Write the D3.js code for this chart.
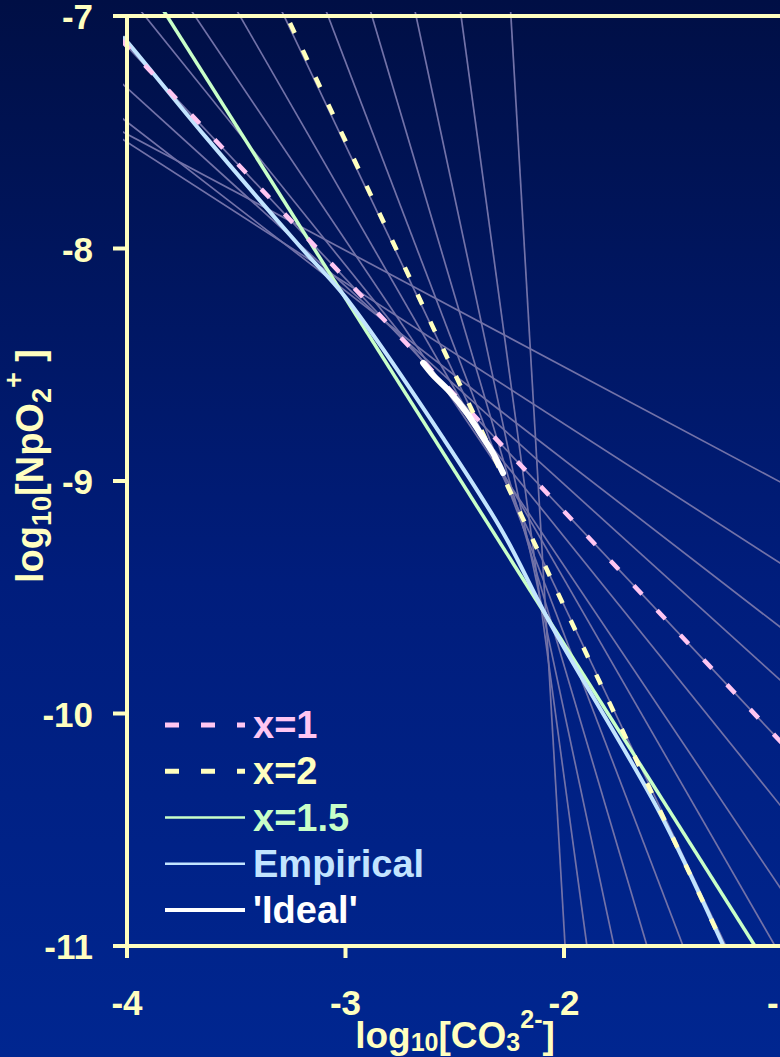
<!DOCTYPE html>
<html>
<head>
<meta charset="utf-8">
<script src="https://cdn.jsdelivr.net/npm/d3@7"></script>
<style>
  html, body { margin: 0; padding: 0; background: #00104a; }
  svg { display: block; }
</style>
</head>
<body>
<script>
// ---- data (log10 units) ----
const xTicks = [-4, -3, -2, -1];
const yTicks = [-7, -8, -9, -10, -11];

// thin fan of trial lines, each given by two points [logCO3, logNpO2]
const fanLines = [
  [[-2.243, -7.000], [-1.995, -11.000]],
  [[-2.471, -7.000], [-1.895, -11.000]],
  [[-2.677, -7.000], [-1.771, -11.000]],
  [[-2.879, -7.000], [-1.620, -11.000]],
  [[-3.080, -7.000], [-1.455, -11.000]],
  [[-3.281, -7.000], [-1.259, -11.000]],
  [[-3.483, -7.000], [-1.034, -11.000]],
  [[-3.689, -7.000], [-1.011, -10.749]],
  [[-3.918, -7.000], [-1.011, -10.394]],
  [[-4.000, -7.310], [-1.011, -9.856]],
  [[-4.000, -7.456], [-1.011, -9.628]],
  [[-4.000, -7.542], [-1.011, -9.353]],
  [[-4.000, -7.508], [-1.011, -9.004]],
  [[-4.000, -7.130], [-1.011, -10.119]]
];

// highlighted slopes
const lineX1  = [[-4.000, -7.130], [-1.011, -10.119]];
const lineX2  = [[-3.254, -7.030], [-1.269, -11.000]];
const lineX15 = [[-3.817, -7.000], [-1.126, -11.000]];

const empirical = [
  [-4.02, -7.09], [-4.00, -7.11], [-3.64, -7.52], [-3.20, -8.00], [-3.00, -8.21],
  [-2.55, -8.82], [-2.28, -9.22], [-2.07, -9.60], [-1.56, -10.43], [-1.27, -11.00],
  [-1.26, -11.02]
];

const ideal = [
  [-2.645, -8.492], [-2.600, -8.544], [-2.522, -8.617], [-2.444, -8.708],
  [-2.384, -8.794], [-2.325, -8.880], [-2.279, -8.966]
];

const legendLabels = ["x=1", "x=2", "x=1.5", "Empirical", "'Ideal'"];

// ---- layout ----
const W = 780, H = 1057;
const AXIS = "#ffffc0";
const FONT = "'Liberation Sans', Arial, Helvetica, sans-serif";

const x = d3.scaleLinear().domain([-4, -1]).range([127, 782.5]);
const y = d3.scaleLinear().domain([-7, -11]).range([16, 946]);

const svg = d3.select("body").append("svg")
  .attr("width", W).attr("height", H)
  .attr("font-family", FONT).attr("font-weight", "bold");

const defs = svg.append("defs");
const grad = defs.append("linearGradient").attr("id", "bg")
  .attr("x1", 0).attr("y1", 0).attr("x2", 0).attr("y2", 1);
grad.append("stop").attr("offset", 0).attr("stop-color", "#000f45");
grad.append("stop").attr("offset", 0.55).attr("stop-color", "#001d7c");
grad.append("stop").attr("offset", 1).attr("stop-color", "#002690");
svg.append("rect").attr("width", W).attr("height", H).attr("fill", "url(#bg)");

defs.append("clipPath").attr("id", "plot")
  .append("rect").attr("x", 123).attr("y", 12).attr("width", W - 123).attr("height", 936);

// extend a two-point line across the whole x range
function extend(seg) {
  const [[x1, y1], [x2, y2]] = seg;
  const m = (y2 - y1) / (x2 - x1);
  const xa = -4.05, xb = -0.9;
  return [[xa, y1 + m * (xa - x1)], [xb, y1 + m * (xb - x1)]];
}
const line = d3.line().x(d => x(d[0])).y(d => y(d[1]));
const smooth = d3.line().x(d => x(d[0])).y(d => y(d[1])).curve(d3.curveCatmullRom.alpha(0.5));

const plot = svg.append("g").attr("clip-path", "url(#plot)");

plot.selectAll("path.fan").data(fanLines).join("path")
  .attr("class", "fan")
  .attr("d", d => line(extend(d)))
  .attr("fill", "none").attr("stroke", "#7272a8").attr("stroke-width", 1.7);

plot.append("path").attr("d", line(extend(lineX15)))
  .attr("fill", "none").attr("stroke", "#c8ffc8").attr("stroke-width", 3.5);

plot.append("path").attr("d", smooth(empirical))
  .attr("fill", "none").attr("stroke", "#c2e4ff").attr("stroke-width", 4);

plot.append("path").attr("d", line(extend(lineX1)))
  .attr("fill", "none").attr("stroke", "#ffc6f2").attr("stroke-width", 4.5)
  .attr("stroke-dasharray", "12 22").attr("stroke-dashoffset", -8);

plot.append("path").attr("d", line(lineX2))
  .attr("fill", "none").attr("stroke", "#ffffbf").attr("stroke-width", 4.5)
  .attr("stroke-dasharray", "11 19");

plot.append("path").attr("d", smooth(ideal))
  .attr("fill", "none").attr("stroke", "#ffffff").attr("stroke-width", 6)
  .attr("stroke-linecap", "round");

// ---- axes ----
const axes = svg.append("g").attr("stroke", AXIS).attr("stroke-width", 4);
axes.append("line").attr("x1", x(-4)).attr("x2", x(-4)).attr("y1", y(-7) - 2).attr("y2", 958);
axes.append("line").attr("x1", 113).attr("x2", W).attr("y1", y(-7)).attr("y2", y(-7));
axes.append("line").attr("x1", 113).attr("x2", W).attr("y1", y(-11)).attr("y2", y(-11));
axes.selectAll("line.yt").data(yTicks).join("line").attr("class", "yt")
  .attr("x1", 113).attr("x2", x(-4)).attr("y1", d => y(d)).attr("y2", d => y(d));
axes.selectAll("line.xt").data(xTicks).join("line").attr("class", "xt")
  .attr("x1", d => x(d)).attr("x2", d => x(d)).attr("y1", y(-11)).attr("y2", 958);

svg.selectAll("text.yl").data(yTicks).join("text").attr("class", "yl")
  .attr("x", 93).attr("y", d => y(d) + 13)
  .attr("text-anchor", "end").attr("font-size", 35).attr("fill", AXIS)
  .text(d => d);

svg.selectAll("text.xl").data(xTicks).join("text").attr("class", "xl")
  .attr("x", d => x(d)).attr("y", 1015)
  .attr("text-anchor", "middle").attr("font-size", 35).attr("fill", AXIS)
  .text(d => d);

// axis titles with sub/superscripts
const xt = svg.append("text").attr("x", 455).attr("y", 1048)
  .attr("text-anchor", "middle").attr("font-size", 37).attr("fill", AXIS);
xt.append("tspan").text("log");
xt.append("tspan").attr("font-size", 25).attr("dy", 3).text("10");
xt.append("tspan").attr("dy", -3).text("[CO");
xt.append("tspan").attr("font-size", 25).attr("dy", 3).text("3");
xt.append("tspan").attr("font-size", 25).attr("dy", -23).text("2-");
xt.append("tspan").attr("dy", 20).text("]");

const yt = svg.append("text").attr("transform", "translate(43,466) rotate(-90)")
  .attr("text-anchor", "middle").attr("font-size", 38).attr("fill", AXIS);
yt.append("tspan").text("log");
yt.append("tspan").attr("font-size", 27).attr("dy", 8).text("10");
yt.append("tspan").attr("dy", -8).text("[NpO");
yt.append("tspan").attr("font-size", 27).attr("dy", 8).text("2");
yt.append("tspan").attr("font-size", 27).attr("dy", -28).text("+");
yt.append("tspan").attr("dy", 20).text(" ]");

// ---- legend ----
const legendStyle = [
  { color: "#ffc6f2", width: 5, dash: "14 22" },
  { color: "#ffffbf", width: 5, dash: "14 22" },
  { color: "#c8ffc8", width: 2.5, dash: null },
  { color: "#c2e4ff", width: 2.5, dash: null },
  { color: "#ffffff", width: 4, dash: null }
];
const legendRow = d3.scaleLinear().domain([0, 4]).range([725, 910]);
const lg = svg.selectAll("g.leg").data(legendLabels).join("g").attr("class", "leg")
  .attr("transform", (d, i) => `translate(0,${legendRow(i)})`);
lg.append("line").attr("x1", 165).attr("x2", 245).attr("y1", 0).attr("y2", 0)
  .attr("stroke", (d, i) => legendStyle[i].color)
  .attr("stroke-width", (d, i) => legendStyle[i].width)
  .attr("stroke-dasharray", (d, i) => legendStyle[i].dash);
lg.append("text").attr("x", 253).attr("y", 13)
  .attr("font-size", 38).attr("fill", (d, i) => legendStyle[i].color)
  .text(d => d);
</script>
</body>
</html>
